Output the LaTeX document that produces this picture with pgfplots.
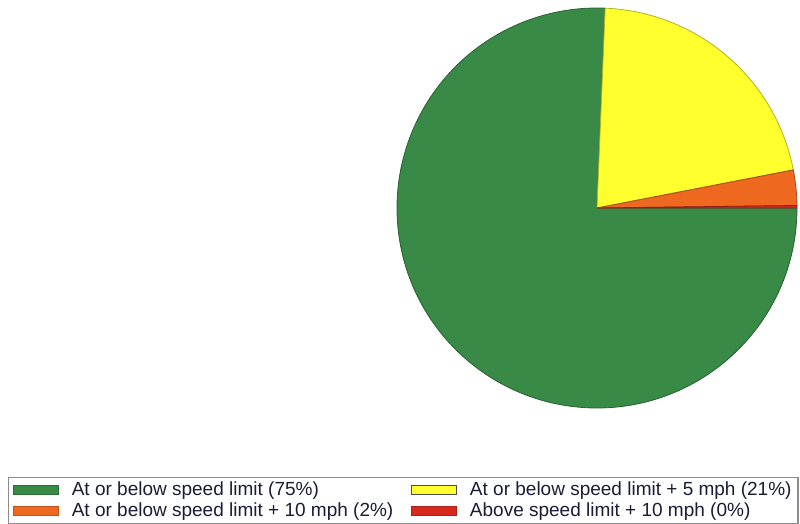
\documentclass[border=0pt]{standalone}
\usepackage{pgfplots}
\pgfplotsset{compat=1.18}
\usepackage{fontspec}
\setmainfont{Liberation Sans}
\definecolor{cgreen}{RGB}{56,138,70}
\definecolor{cyellow}{RGB}{255,255,46}
\definecolor{corange}{RGB}{238,104,32}
\definecolor{cred}{RGB}{214,40,30}
\definecolor{ctext}{RGB}{28,28,55}
% slice values (percent), clockwise from 3 o'clock
\def\vA{75.65}\def\vB{21.3}\def\vC{2.85}\def\vD{0.2}
\pgfmathsetmacro\aA{0}
\pgfmathsetmacro\aB{\aA-3.6*\vA}
\pgfmathsetmacro\aC{\aB-3.6*\vB}
\pgfmathsetmacro\aD{\aC-3.6*\vC}
\pgfmathsetmacro\aE{\aD-3.6*\vD}
\def\cx{597}\def\cy{315}\def\rr{200}
\newcommand\slice[3]{%
  \fill[#3,draw=#3!70!black,line width=0.4pt] (axis cs:\cx,\cy) -- (axis cs:{\cx+\rr*cos(#1)},{\cy+\rr*sin(#1)}) arc[start angle=#1,end angle=#2,radius=100pt] -- cycle;}
\newcommand\lent[2]{\makebox[#1][l]{\hspace*{5pt}#2}}
\begin{document}
\begin{tikzpicture}
\begin{axis}[
  scale only axis, width=400pt, height=261.5pt,
  xmin=0, xmax=800, ymin=0, ymax=523,
  hide axis, clip=false,
  legend columns=2,
  legend cell align=left,
  legend image code/.code={\draw[#1] (0pt,-2.3pt) rectangle (22.5pt,2.3pt);},
  legend style={at={(axis cs:8,46)}, anchor=north west, draw=black!45, line width=0.6pt,
    font=\fontsize{9.5}{11}\selectfont\color{ctext}, inner xsep=2pt, inner ysep=0.5pt,
    row sep=-1pt, nodes={inner sep=1.5pt}},
]
\path (axis cs:0,0) rectangle (axis cs:800,523);
\addlegendimage{fill=cgreen, draw=cgreen!80!black}
\addlegendentry{\lent{173pt}{At or below speed limit (75\%)}}
\addlegendimage{fill=cyellow, draw=black!70}
\addlegendentry{\lent{165.5pt}{At or below speed limit + 5 mph (21\%)}}
\addlegendimage{fill=corange, draw=corange!80!black}
\addlegendentry{\lent{173pt}{At or below speed limit + 10 mph (2\%)}}
\addlegendimage{fill=cred, draw=cred!80!black}
\addlegendentry{\lent{165.5pt}{Above speed limit + 10 mph (0\%)}}
\slice{\aA}{\aB}{cgreen}
\slice{\aB}{\aC}{cyellow}
\slice{\aC}{\aD}{corange}
\slice{\aD}{\aE}{cred}
\end{axis}
\end{tikzpicture}
\end{document}
